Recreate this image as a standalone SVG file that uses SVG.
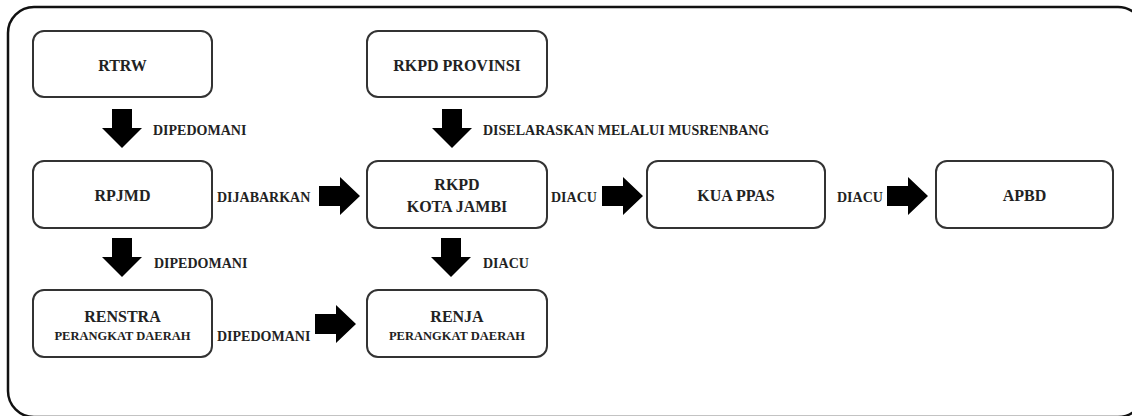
<svg xmlns="http://www.w3.org/2000/svg" width="1132" height="416" viewBox="0 0 1132 416">
<style>
.frame{fill:#fff;stroke:#111;stroke-width:2.5}
.box{fill:#fff;stroke:#333;stroke-width:2}
.t{font-family:"Liberation Serif","Times New Roman",serif;font-weight:bold;fill:#222;text-anchor:middle}
.big{font-size:16px}
.small{font-size:12.5px}
.lbl{font-family:"Liberation Serif","Times New Roman",serif;font-weight:bold;font-size:14px;fill:#222}
.arr{fill:#000}
</style>
<defs>
<path id="ad" d="M-10,0 H10 V19 H20 L0,39 L-20,19 H-10 Z"/>
<path id="ar" d="M0,-10 H21 V-19 L41,0 L21,19 V10 H0 Z"/>
</defs>
<rect class="frame" x="8" y="7" width="1136" height="410" rx="26"/>
<g id="rtrw"><rect class="box" x="33" y="31" width="179" height="66" rx="11"/><text class="t big" x="122.5" y="70.5">RTRW</text></g>
<g id="rkpd-provinsi"><rect class="box" x="367" y="31" width="180" height="66" rx="11"/><text class="t big" x="457" y="70.5">RKPD PROVINSI</text></g>
<g id="rpjmd"><rect class="box" x="33" y="161" width="179" height="67" rx="11"/><text class="t big" x="122.5" y="201">RPJMD</text></g>
<g id="rkpd-kota"><rect class="box" x="367" y="161" width="180" height="67" rx="11"/><text class="t big" x="457" y="190">RKPD</text><text class="t big" x="457" y="212">KOTA JAMBI</text></g>
<g id="kua-ppas"><rect class="box" x="647" y="161" width="178" height="67" rx="11"/><text class="t big" x="736" y="201">KUA PPAS</text></g>
<g id="apbd"><rect class="box" x="936" y="161" width="177" height="67" rx="11"/><text class="t big" x="1024.5" y="201">APBD</text></g>
<g id="renstra"><rect class="box" x="33" y="290" width="179" height="67" rx="11"/><text class="t big" x="122.5" y="322">RENSTRA</text><text class="t small" x="122.5" y="340">PERANGKAT DAERAH</text></g>
<g id="renja"><rect class="box" x="367" y="290" width="180" height="67" rx="11"/><text class="t big" x="457" y="322">RENJA</text><text class="t small" x="457" y="340">PERANGKAT DAERAH</text></g>
<g id="connectors">
<use class="arr" href="#ad" x="122" y="109"/>
<text class="lbl" x="153" y="135">DIPEDOMANI</text>
<use class="arr" href="#ad" x="452" y="109"/>
<text class="lbl" x="483" y="135">DISELARASKAN MELALUI MUSRENBANG</text>
<use class="arr" href="#ad" x="122" y="238"/>
<text class="lbl" x="154" y="268">DIPEDOMANI</text>
<use class="arr" href="#ad" x="451" y="238"/>
<text class="lbl" x="483" y="268">DIACU</text>
<text class="lbl" x="217" y="202">DIJABARKAN</text>
<use class="arr" href="#ar" x="319" y="196"/>
<text class="lbl" x="551" y="202">DIACU</text>
<use class="arr" href="#ar" x="602" y="196"/>
<text class="lbl" x="837" y="202">DIACU</text>
<use class="arr" href="#ar" x="887" y="196"/>
<text class="lbl" x="217" y="341">DIPEDOMANI</text>
<use class="arr" href="#ar" x="315" y="324"/>
</g>
</svg>
